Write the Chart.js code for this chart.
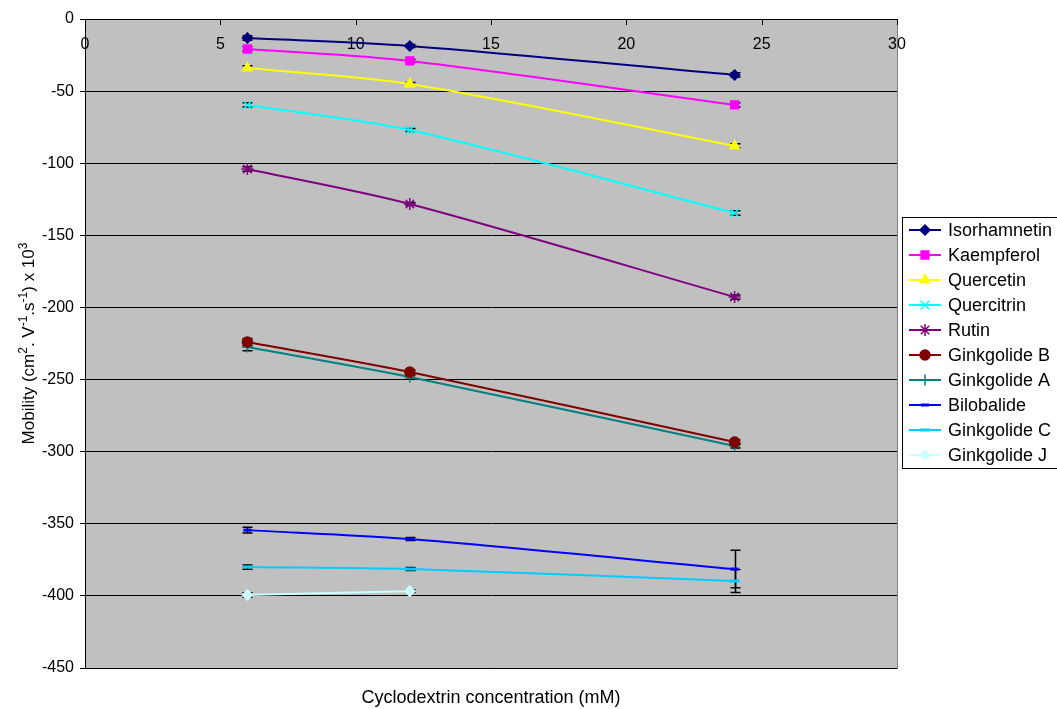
<!DOCTYPE html>
<html>
<head>
<meta charset="utf-8">
<script src="https://cdn.jsdelivr.net/npm/chart.js@4.4.1/dist/chart.umd.min.js"></script>
<style>
html, body { margin: 0; padding: 0; background: #fff; }
#wrap { position: relative; width: 1057px; height: 709px; }
</style>
</head>
<body>
<div id="wrap"><canvas id="mobility-chart"></canvas></div>
<script>
// cyclodextrin concentrations (mM)
const concentrations = [6, 12, 24];

// mobility values (x 10^3)
const isorhamnetin = [-13.2, -18.7, -38.8];
const kaempferol = [-20.8, -29.1, -59.6];
const quercetin = [-34, -45, -88];
const quercitrin = [-59.6, -77, -134.5];
const rutin = [-104, -128.3, -192.8];
const ginkgolideB = [-224, -244.8, -293.3];
const ginkgolideA = [-227.5, -248.3, -296];
const bilobalide = [-354.4, -360.6, -381.4];
const ginkgolideC = [-380, -381.4, -389.7];
const ginkgolideJ = [-399.4, -396.7, null];

// error bar half-heights
const isorhamnetinErr = [1.5, 1, 1.5];
const kaempferolErr = [1.5, 1, 1.5];
const quercetinErr = [1.5, 1, 1.5];
const quercitrinErr = [1.5, 1, 1.5];
const rutinErr = [1.5, 1, 1.5];
const ginkgolideBErr = [2.5, 1.5, 1.5];
const ginkgolideAErr = [2.5, 1.5, 1.5];
const bilobalideErr = [2, 1, 13];
const ginkgolideCErr = [1.5, 1, 8];
const ginkgolideJErr = [1.5, 1, null];

const seriesNames = ['Isorhamnetin', 'Kaempferol', 'Quercetin', 'Quercitrin', 'Rutin',
    'Ginkgolide B', 'Ginkgolide A', 'Bilobalide', 'Ginkgolide C', 'Ginkgolide J'];
const seriesValues = [isorhamnetin, kaempferol, quercetin, quercitrin, rutin,
    ginkgolideB, ginkgolideA, bilobalide, ginkgolideC, ginkgolideJ];
const seriesErrors = [isorhamnetinErr, kaempferolErr, quercetinErr, quercitrinErr, rutinErr,
    ginkgolideBErr, ginkgolideAErr, bilobalideErr, ginkgolideCErr, ginkgolideJErr];
const seriesColors = ['#000080', '#FF00FF', '#FFFF00', '#00FFFF', '#800080',
    '#800000', '#008080', '#0000FF', '#00CCFF', '#CCFFFF'];
const seriesMarkers = ['rectRot', 'rect', 'triangle', 'crossRot', 'star',
    'circle', 'cross', 'line', 'line', 'rectRot'];
const markerSizes = [5, 5.5, 5.5, 6, 6, 5, 5.5, 4, 5, 5];

const yTicks = [0, -50, -100, -150, -200, -250, -300, -350, -400, -450];

// y title pieces: [text, superscript?]
const yTitleParts = [['Mobility (cm', false], ['2', true], ['. V', false], ['-1', true],
    ['.s', false], ['-1', true], [') x 10', false], ['3', true]];

const FONT = "'Liberation Sans', Arial, sans-serif";

const datasets = seriesNames.map((name, i) => ({
    label: name,
    data: concentrations.map((c, j) => ({ x: c, y: seriesValues[i][j] })),
    errors: seriesErrors[i],
    borderColor: seriesColors[i],
    backgroundColor: seriesColors[i],
    pointBackgroundColor: seriesColors[i],
    pointBorderColor: seriesColors[i],
    pointStyle: seriesMarkers[i],
    pointRadius: markerSizes[i],
    pointBorderWidth: (seriesMarkers[i] === 'line' ? 3 : 1.5),
    borderWidth: 2,
    tension: 0.3,
    spanGaps: false
}));

const plotBackground = {
    id: 'plotBackground',
    beforeDraw(chart) {
        const { ctx, chartArea } = chart;
        ctx.save();
        ctx.fillStyle = '#ffffff';
        ctx.fillRect(0, 0, chart.width, chart.height);
        ctx.fillStyle = '#C0C0C0';
        ctx.fillRect(chartArea.left, chartArea.top, chartArea.right - chartArea.left, chartArea.bottom - chartArea.top);
        ctx.strokeStyle = '#808080';
        ctx.lineWidth = 1;
        ctx.strokeRect(chartArea.left + 0.5, chartArea.top + 0.5, chartArea.right - chartArea.left, chartArea.bottom - chartArea.top);
        ctx.restore();
    },
    afterDraw(chart) {
        // x tick marks hang down from the axis line (axis crosses at y = 0)
        const ctx = chart.ctx;
        const xs = chart.scales.x;
        const y0 = Math.round(chart.scales.y.getPixelForValue(0));
        ctx.save();
        ctx.strokeStyle = '#000';
        ctx.lineWidth = 1;
        ctx.beginPath();
        xs.ticks.forEach(t => {
            const px = Math.round(xs.getPixelForValue(t.value)) + 0.5;
            ctx.moveTo(px, y0);
            ctx.lineTo(px, y0 + 6);
        });
        ctx.stroke();

        // y axis title with real superscripts
        const cy = (chart.chartArea.top + chart.chartArea.bottom) / 2;
        const mainFont = '17px ' + FONT;
        const supFont = '12px ' + FONT;
        let total = 0;
        yTitleParts.forEach(p => {
            ctx.font = p[1] ? supFont : mainFont;
            total += ctx.measureText(p[0]).width;
        });
        ctx.translate(28, cy);
        ctx.rotate(-Math.PI / 2);
        ctx.fillStyle = '#000';
        ctx.textBaseline = 'alphabetic';
        let x = -total / 2;
        yTitleParts.forEach(p => {
            ctx.font = p[1] ? supFont : mainFont;
            ctx.fillText(p[0], x, p[1] ? -1 : 6);
            x += ctx.measureText(p[0]).width;
        });
        ctx.restore();
    }
};

const errorBars = {
    id: 'errorBars',
    beforeDatasetsDraw(chart) {
        const ctx = chart.ctx;
        const xs = chart.scales.x;
        const ys = chart.scales.y;
        ctx.save();
        ctx.strokeStyle = '#000';
        ctx.lineWidth = 1.5;
        chart.data.datasets.forEach(ds => {
            ds.data.forEach((pt, i) => {
                const err = ds.errors[i];
                if (pt.y == null || err == null) return;
                const px = Math.round(xs.getPixelForValue(pt.x)) + 0.5;
                const top = ys.getPixelForValue(pt.y + err);
                const bot = ys.getPixelForValue(pt.y - err);
                ctx.beginPath();
                ctx.moveTo(px, top);
                ctx.lineTo(px, bot);
                ctx.moveTo(px - 5, top);
                ctx.lineTo(px + 5, top);
                ctx.moveTo(px - 5, bot);
                ctx.lineTo(px + 5, bot);
                ctx.stroke();
            });
        });
        ctx.restore();
    }
};

const boxLegend = {
    id: 'boxLegend',
    afterDraw(chart) {
        const ctx = chart.ctx;
        const left = chart.chartArea.right + 5;
        const top = 217;
        const rowH = 25;
        ctx.save();
        ctx.fillStyle = '#fff';
        ctx.fillRect(left, top, 200, 251);
        ctx.strokeStyle = '#000';
        ctx.lineWidth = 1;
        ctx.strokeRect(left + 0.5, top + 0.5, 200, 251);
        ctx.font = '18px ' + FONT;
        ctx.textBaseline = 'middle';
        chart.data.datasets.forEach((ds, i) => {
            const y = top + 13 + i * rowH;
            ctx.strokeStyle = ds.borderColor;
            ctx.lineWidth = 2;
            ctx.beginPath();
            ctx.moveTo(left + 7, y);
            ctx.lineTo(left + 39, y);
            ctx.stroke();
            ctx.fillStyle = ds.pointBackgroundColor;
            ctx.strokeStyle = ds.pointBorderColor;
            ctx.lineWidth = ds.pointBorderWidth;
            Chart.helpers.drawPoint(ctx, {
                pointStyle: ds.pointStyle,
                radius: ds.pointRadius,
                rotation: 0,
                borderWidth: ds.pointBorderWidth
            }, left + 23, y);
            ctx.fillStyle = '#000';
            ctx.fillText(ds.label, left + 46, y + 1);
        });
        ctx.restore();
    }
};

new Chart(document.getElementById('mobility-chart'), {
    type: 'line',
    data: { datasets: datasets },
    options: {
        responsive: true,
        maintainAspectRatio: false,
        animation: false,
        layout: {
            padding: { left: 0, right: 160, top: 19, bottom: 0 }
        },
        plugins: {
            legend: { display: false },
            tooltip: { enabled: false },
            title: {
                display: true,
                position: 'bottom',
                fullSize: false,
                text: 'Cyclodextrin concentration (mM)',
                color: '#000',
                font: { family: FONT, size: 18, weight: 'normal' },
                padding: { top: 19.4, bottom: 0 }
            }
        },
        scales: {
            x: {
                type: 'linear',
                position: { y: 0 },
                min: 0,
                max: 30,
                grid: {
                    drawOnChartArea: false,
                    drawTicks: false,
                    color: '#000'
                },
                border: { display: true, color: '#000', width: 1 },
                ticks: {
                    stepSize: 5,
                    padding: 16,
                    color: '#000',
                    font: { family: FONT, size: 16 }
                }
            },
            y: {
                min: -450,
                max: 0,
                afterFit(scale) { scale.width = 85; },
                afterBuildTicks(scale) { scale.ticks = yTicks.map(v => ({ value: v })); },
                grid: {
                    color: '#000',
                    tickLength: 5,
                    lineWidth: 1
                },
                border: { display: true, color: '#000', width: 1 },
                ticks: {
                    padding: 6,
                    color: '#000',
                    font: { family: FONT, size: 16 }
                },
                title: { display: false }
            }
        }
    },
    plugins: [plotBackground, errorBars, boxLegend]
});
</script>
</body>
</html>
